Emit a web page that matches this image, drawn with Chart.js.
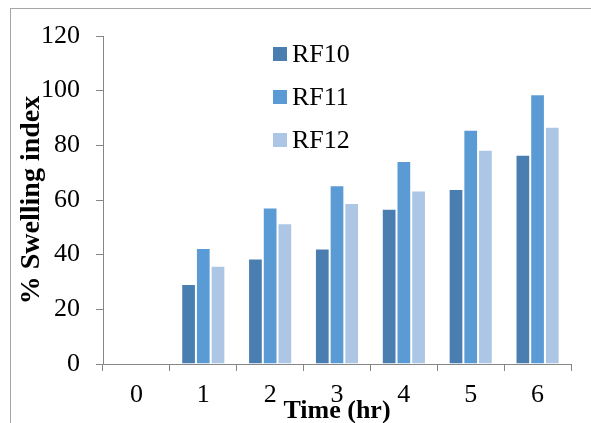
<!DOCTYPE html>
<html><head><meta charset="utf-8">
<style>html,body{margin:0;padding:0;background:#fff;}#wrap{width:591px;height:423px;position:relative;}</style>
<script src="https://cdn.jsdelivr.net/npm/chart.js@4/dist/chart.umd.min.js"></script>
</head><body><div id="wrap"><canvas id="c" width="591" height="423"></canvas></div>
<script>
const categories = ['0','1','2','3','4','5','6'];
const rf10 = [0, 29.3, 38.6, 42.3, 56.8, 64.0, 76.6];
const rf11 = [0, 42.4, 57.3, 65.4, 74.3, 85.7, 98.7];
const rf12 = [0, 35.9, 51.5, 58.9, 63.5, 78.4, 86.8];
const seriesNames = ['RF10','RF11','RF12'];
const yTicks = [0,20,40,60,80,100,120];
const colors = ['#4a7eb0','#5b9bd5','#adc6e5'];
const FONT = "'Liberation Serif','Times New Roman',serif";

const frame = {
  id:'frame',
  beforeDraw(chart){
    const ctx = chart.ctx; ctx.save();
    ctx.fillStyle='#fff'; ctx.fillRect(0,0,chart.width,chart.height);
    ctx.strokeStyle='#a6a6a6'; ctx.lineWidth=1;
    ctx.strokeRect(10.5,8.5,700,600);
    ctx.restore();
  }
};
const legendPlug = {
  id:'legendPlug',
  afterDraw(chart){
    const ctx = chart.ctx; ctx.save();
    ctx.font = "26px " + FONT; ctx.textBaseline='middle'; ctx.fillStyle='#000';
    chart.data.datasets.forEach((ds,i)=>{
      const y = 54 + i*43;
      ctx.fillStyle = ds.backgroundColor;
      ctx.fillRect(273, y-7, 14, 14);
      ctx.fillStyle = '#000';
      ctx.fillText(ds.label, 292, y+1);
    });
    ctx.restore();
  }
};

new Chart(document.getElementById('c'), {
  type:'bar',
  data:{
    labels: categories,
    datasets: [rf10,rf11,rf12].map((d,i)=>({
      label: seriesNames[i], data: d, backgroundColor: colors[i],
      borderColor:'rgba(255,255,255,0.5)', borderWidth:{left:1,right:1,top:1,bottom:0},
      categoryPercentage:0.66, barPercentage:1.0
    }))
  },
  options:{
    responsive:false, animation:false, devicePixelRatio:1,
    layout:{padding:{left:15,right:20,top:0,bottom:0}},
    plugins:{legend:{display:false}, tooltip:{enabled:false}},
    scales:{
      x:{
        offset:true,
        grid:{offset:true, drawOnChartArea:false, tickLength:7, color:'#868686'},
        border:{display:true,color:'#868686'},
        ticks:{font:{family:FONT,size:26}, color:'#000', padding:9, maxRotation:0},
        title:{display:true, text:'Time (hr)', font:{family:FONT,size:26,weight:'bold'}, color:'#000', padding:{top:0,bottom:-4}},
        afterFit(s){ s.height = 59; }
      },
      y:{
        min:0, max:120,
        afterBuildTicks(s){ s.ticks = yTicks.map(v=>({value:v})); },
        grid:{drawOnChartArea:false, tickLength:7, color:'#868686'},
        border:{display:true,color:'#868686'},
        ticks:{font:{family:FONT,size:26}, color:'#000', padding:16},
        title:{display:true, text:'% Swelling index', font:{family:FONT,size:28,weight:'bold'}, color:'#000', padding:{top:0,bottom:0}},
        afterFit(s){ s.width = 88; s.paddingTop = 36; s.paddingBottom = 0; }
      }
    }
  },
  plugins:[frame, legendPlug]
});
</script></body></html>
